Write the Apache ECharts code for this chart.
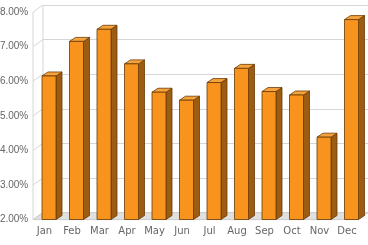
<!DOCTYPE html>
<html>
<head>
<meta charset="utf-8">
<script src="https://cdn.jsdelivr.net/npm/echarts@6/dist/echarts.min.js"></script>
<style>html,body{margin:0;padding:0;background:#fff}#c{width:368px;height:245px}</style>
</head>
<body>
<div id="c"></div>
<script>
var categories = ['Jan','Feb','Mar','Apr','May','Jun','Jul','Aug','Sep','Oct','Nov','Dec'];
var rates = [6.15, 7.15, 7.5, 6.5, 5.68, 5.45, 5.96, 6.37, 5.7, 5.6, 4.38, 7.78];
var yTicks = [2, 3, 4, 5, 6, 7, 8];

var DX = 10, DY = 7;      // wall depth
var BW = 7, BDX = 6, BDY = 4; // bar half width and bar depth

var chart = echarts.init(document.getElementById('c'), null, {renderer: 'canvas'});
chart.setOption({
  animation: false,
  grid: [
    {left: 35.25, right: 2.75, top: 12, bottom: 25.5, containLabel: false, outerBoundsMode: 'none'},
    {left: 43, right: 0, top: 5, bottom: 32.4, containLabel: false, outerBoundsMode: 'none'}
  ],
  xAxis: [
    {type: 'category', gridIndex: 0, data: categories,
     axisLine: {show: false}, axisTick: {show: false},
     axisLabel: {interval: 0, color: '#666', fontSize: 10, fontFamily: 'DejaVu Sans', margin: 7, padding: [0, 9, 0, 0]}},
    {type: 'value', gridIndex: 1, min: 0, max: 1, show: false}
  ],
  yAxis: [
    {type: 'value', gridIndex: 0, min: 2, max: 8, interval: 1,
     axisLine: {show: false}, axisTick: {show: false}, splitLine: {show: false},
     axisLabel: {color: '#666', fontSize: 10, fontFamily: 'Liberation Sans', margin: 7,
       formatter: function (v) { return v.toFixed(2) + '%'; }}},
    {type: 'value', gridIndex: 1, min: 2, max: 8, interval: 1,
     axisLine: {show: false}, axisTick: {show: false}, axisLabel: {show: false},
     splitLine: {show: true, lineStyle: {color: '#d6d6d6', width: 1}}}
  ],
  series: [
    {
      type: 'custom', xAxisIndex: 1, yAxisIndex: 1, silent: true, z: 1,
      data: yTicks,
      renderItem: function (params, api) {
        var v = api.value(0);
        var p = api.coord([0, v]);
        var children = [{
          type: 'line',
          shape: {x1: p[0] - DX, y1: p[1] + DY, x2: p[0], y2: p[1]},
          style: {stroke: '#d6d6d6', lineWidth: 1}
        }];
        if (params.dataIndex === 0) {
          var cs = params.coordSys;
          var b = api.coord([0, yTicks[0]]);
          var t = api.coord([0, yTicks[yTicks.length - 1]]);
          var xr = cs.x + cs.width;
          children.push({
            type: 'polygon',
            shape: {points: [[b[0] - DX, b[1] + DY], [xr - DX, b[1] + DY], [xr, b[1]], [b[0], b[1]]]},
            style: {fill: '#e0e0e0', stroke: '#cccccc', lineWidth: 1}
          });
          children.push({type: 'line', shape: {x1: b[0], y1: b[1], x2: t[0], y2: t[1]},
            style: {stroke: '#d6d6d6', lineWidth: 1}});
          children.push({type: 'line', shape: {x1: b[0] - DX, y1: b[1] + DY, x2: t[0] - DX, y2: t[1] + DY},
            style: {stroke: '#d6d6d6', lineWidth: 1}});
        }
        return {type: 'group', children: children};
      }
    },
    {
      type: 'custom', xAxisIndex: 0, yAxisIndex: 0, z: 5,
      data: rates.map(function (v, i) { return [i, v]; }),
      encode: {x: 0, y: 1},
      renderItem: function (params, api) {
        var i = api.value(0), v = api.value(1);
        var top = api.coord([i, v]);
        var base = api.coord([i, yTicks[0]]);
        var x0 = top[0] - BW, x1 = top[0] + BW;
        var stroke = '#6a3a05';
        return {type: 'group', children: [
          {type: 'polygon', shape: {points: [[x1, base[1]], [x1 + BDX, base[1] - BDY], [x1 + BDX, top[1] - BDY], [x1, top[1]]]},
           style: {fill: '#9c5c12', stroke: stroke, lineWidth: 0.8}},
          {type: 'polygon', shape: {points: [[x0, top[1]], [x0 + BDX, top[1] - BDY], [x1 + BDX, top[1] - BDY], [x1, top[1]]]},
           style: {fill: '#f7a33c', stroke: stroke, lineWidth: 0.8}},
          {type: 'rect', shape: {x: x0, y: top[1], width: x1 - x0, height: base[1] - top[1]},
           style: {fill: '#f8941d', stroke: stroke, lineWidth: 0.8}}
        ]};
      }
    }
  ]
});
</script>
</body>
</html>
